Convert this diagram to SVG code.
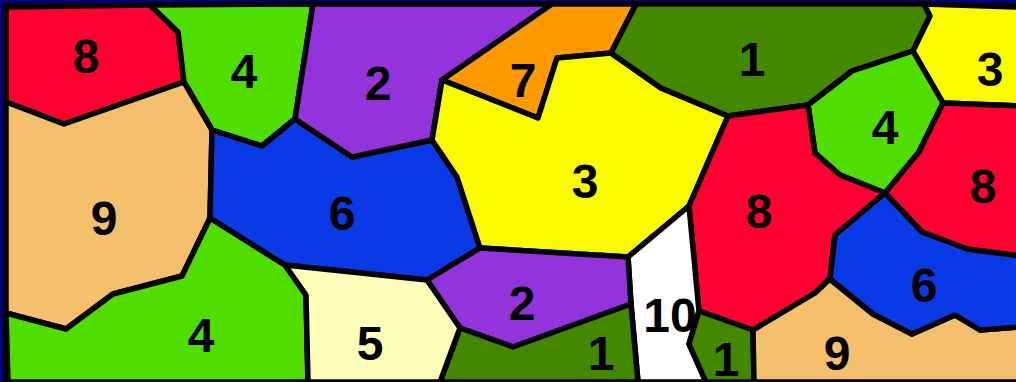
<svg xmlns="http://www.w3.org/2000/svg" width="1016" height="382" viewBox="0 0 1016 382">
<style>
.r{stroke:#000;stroke-width:5.5;stroke-linejoin:round}
.red{fill:#FF0030}.lg{fill:#50DD00}.pu{fill:#9333DC}.bl{fill:#0A3AE6}.tan{fill:#F5C06E}
.or{fill:#FF9900}.ye{fill:#FAFA00}.dg{fill:#448800}.ly{fill:#FFFFBB}.wh{fill:#FFFFFF}
text{font-family:"Liberation Sans",Arial,sans-serif;font-weight:bold;font-size:48px;fill:#000;text-anchor:middle}
</style>
<rect x="0" y="0" width="1016" height="382" fill="#000080"/>
<rect x="3" y="3" width="1016" height="382" fill="#000"/>
<g id="r8a"><polygon class="r red" points="6,7 150,5 178,32 184,82 64,124 6,102"/><text x="86" y="73">8</text></g>
<g id="r4a"><polygon class="r lg" points="150,5 313,4 295,119 262,146 212,130 184,82 178,32"/><text x="244" y="88">4</text></g>
<g id="r9a"><polygon class="r tan" points="6,102 64,124 184,82 212,130 210,218 182,276 113,294 66,329 6,313"/><text x="104" y="235">9</text></g>
<g id="r4b"><polygon class="r lg" points="6,313 66,329 113,294 182,276 210,218 285,265 306,295 308,382 8,382"/><text x="201" y="352">4</text></g>
<g id="r6a"><polygon class="r bl" points="212,130 262,146 295,119 352,157 432,140 457,177 480,248 427,280 285,265 210,218"/><text x="342" y="230">6</text></g>
<g id="r2a"><polygon class="r pu" points="313,4 552,4 442,80 432,140 352,157 295,119"/><text x="378" y="100">2</text></g>
<g id="r7"><polygon class="r or" points="552,4 636,4 611,53 557,58 538,118 442,80"/><text x="523" y="97">7</text></g>
<g id="r3a"><polygon class="r ye" points="442,80 538,118 557,58 611,53 661,88 728,116 689,206 628,257 480,248 457,177 432,140"/><text x="585" y="198">3</text></g>
<g id="r1a"><polygon class="r dg" points="636,4 924,4 930,16 913,51 852,71 808,105 728,116 661,88 611,53"/><text x="752" y="76">1</text></g>
<g id="r3b"><polygon class="r ye" points="924,4 1020,7 1020,106 943,103 913,51 930,16"/><text x="990" y="86">3</text></g>
<g id="r4c"><polygon class="r lg" points="808,105 852,71 913,51 943,103 919,152 885,193 840,175 815,153"/><text x="885" y="144">4</text></g>
<g id="r8c"><polygon class="r red" points="943,103 1020,106 1020,256 967,249 922,232 885,193 919,152"/><text x="983" y="203">8</text></g>
<g id="r8b"><polygon class="r red" points="728,116 808,105 815,153 840,175 885,193 835,235 830,278 815,293 753,330 699,311 689,206"/><text x="759" y="228">8</text></g>
<g id="r10"><polygon class="r wh" points="689,206 699,311 689,344 706,382 638,382 631,304 628,257"/><text x="670" y="332">10</text></g>
<g id="r2b"><polygon class="r pu" points="480,248 628,257 631,304 513,347 460,328 427,280"/><text x="522" y="320">2</text></g>
<g id="r1b"><polygon class="r dg" points="460,328 513,347 631,304 638,382 440,382"/><text x="601" y="370">1</text></g>
<g id="r5"><polygon class="r ly" points="285,265 427,280 460,328 440,382 308,382 306,295"/><text x="370" y="360">5</text></g>
<g id="r1c"><polygon class="r dg" points="699,311 753,330 754,382 706,382 689,344"/><text x="726" y="376">1</text></g>
<g id="r9b"><polygon class="r tan" points="753,330 815,293 830,279 873,314 912,334 955,315 980,330 1020,327 1020,382 754,382"/><text x="837" y="370">9</text></g>
<g id="r6b"><polygon class="r bl" points="885,193 922,232 967,249 1020,256 1020,327 980,330 955,315 912,334 873,314 830,279 835,235"/><text x="924" y="302">6</text></g>
<g id="connectors"></g>
</svg>
